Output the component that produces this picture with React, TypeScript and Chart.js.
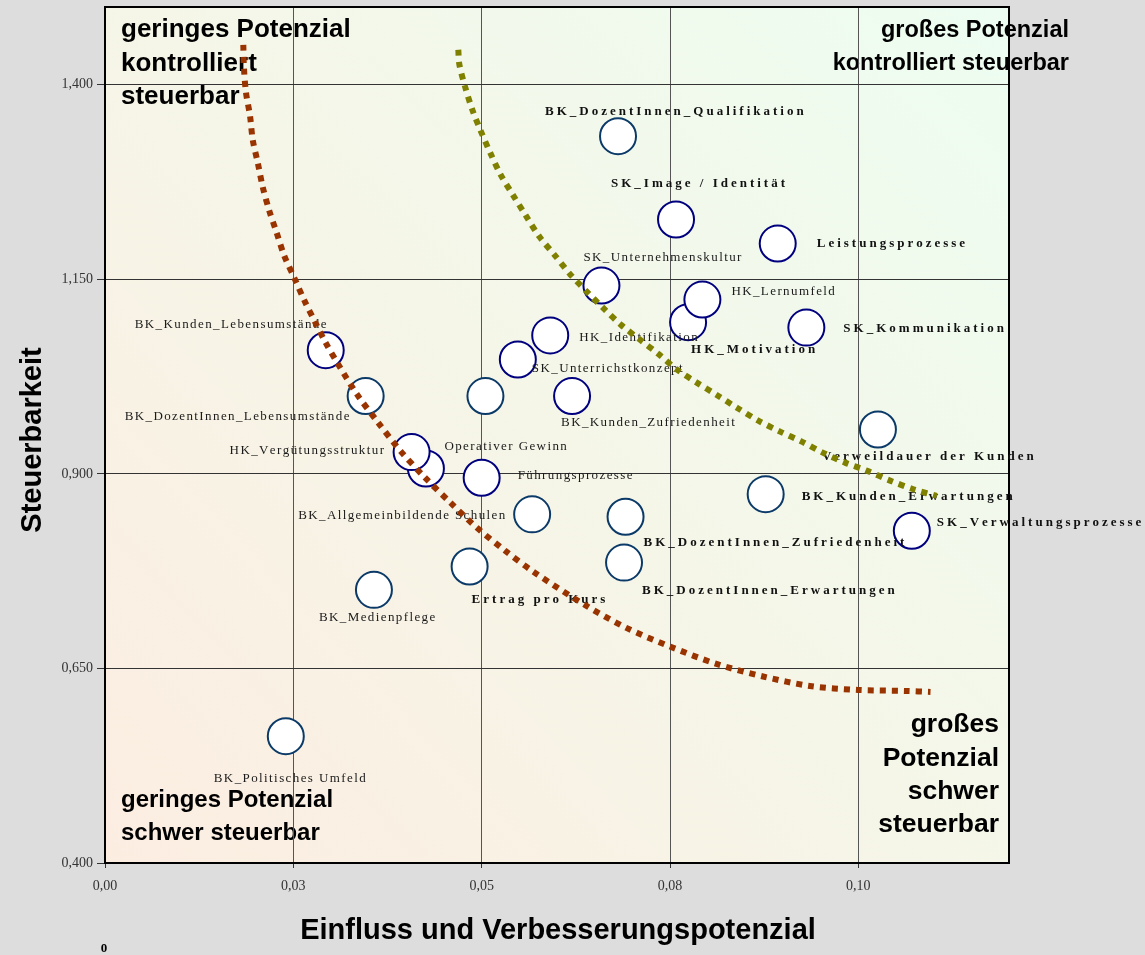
import React, { useEffect, useRef } from 'react';
import { Chart, registerables } from 'chart.js';

Chart.register(...registerables);

// ---------- DATA ----------
const NAMES = [
  'BK_DozentInnen_Qualifikation',
  'SK_Image / Identität',
  'Leistungsprozesse',
  'SK_Unternehmenskultur',
  'HK_Motivation',
  'HK_Lernumfeld',
  'SK_Kommunikation',
  'HK_Identifikation',
  'SK_Unterrichstkonzept',
  'BK_Kunden_Zufriedenheit',
  'Operativer Gewinn',
  'Verweildauer der Kunden',
  'BK_Kunden_Lebensumstände',
  'BK_DozentInnen_Lebensumstände',
  '',
  'HK_Vergütungsstruktur',
  'Führungsprozesse',
  'BK_Kunden_Erwartungen',
  'BK_Allgemeinbildende Schulen',
  'BK_DozentInnen_Zufriedenheit',
  'BK_DozentInnen_Erwartungen',
  'Ertrag pro Kurs',
  'SK_Verwaltungsprozesse',
  'BK_Medienpflege',
  'BK_Politisches Umfeld',
];

const EINFLUSS = [
  0.0681, 0.0758, 0.0893, 0.0659, 0.0774, 0.0793, 0.0931, 0.0591, 0.0548,
  0.0620, 0.0505, 0.1026, 0.0293, 0.0346, 0.0426, 0.0407, 0.0500, 0.0877,
  0.0567, 0.0691, 0.0689, 0.0484, 0.1071, 0.0357, 0.0240,
];

const STEUERBARKEIT = [
  1.334, 1.227, 1.196, 1.142, 1.095, 1.124, 1.088, 1.078, 1.047,
  1.000, 1.000, 0.957, 1.059, 1.000, 0.907, 0.928, 0.895, 0.874,
  0.848, 0.845, 0.786, 0.781, 0.827, 0.751, 0.563,
];

// group of each point (drives its outline colour)
const GROUP = [
  'B', 'A', 'A', 'A', 'A', 'A', 'A', 'A', 'A',
  'A', 'B', 'B', 'A', 'B', 'A', 'A', 'A', 'B',
  'B', 'B', 'B', 'B', 'A', 'B', 'B',
];

// bold labels
const BOLD = [
  true, true, true, false, true, false, true, false, false,
  false, false, true, false, false, false, false, false, true,
  false, true, true, true, true, false, false,
];

// Trend curves
const RED_X = [
  0.01836, 0.01845, 0.01872, 0.01925, 0.01961, 0.02031, 0.02093, 0.02181, 0.02279,
  0.0238, 0.02513, 0.02642, 0.02792, 0.0293, 0.03084, 0.03341, 0.03628, 0.03929,
  0.04248, 0.04589, 0.04934, 0.0531, 0.05685, 0.06381, 0.06928, 0.07516, 0.08117,
  0.08736, 0.09356, 0.09993, 0.10631, 0.10958,
];
const RED_Y = [
  1.4514, 1.4206, 1.3897, 1.3602, 1.3293, 1.2985, 1.2689, 1.238, 1.2098,
  1.1802, 1.1519, 1.1237, 1.0945, 1.0684, 1.0427, 1.0028, 0.9656, 0.9287,
  0.8952, 0.8627, 0.831, 0.8014, 0.7744, 0.731, 0.7018, 0.6775, 0.6558,
  0.6397, 0.6275, 0.6224, 0.6211, 0.6198,
];
const OLIVE_X = [
  0.0469, 0.04703, 0.04779, 0.04876, 0.04987, 0.0512, 0.05253, 0.0542, 0.05589,
  0.05765, 0.05974, 0.06173, 0.06395, 0.06615, 0.0685, 0.07093, 0.07345, 0.07598,
  0.07855, 0.0812, 0.08399, 0.08672, 0.08961, 0.09249, 0.09527, 0.09823, 0.10111,
  0.10421, 0.1073, 0.11041,
];
const OLIVE_Y = [
  1.445, 1.4266, 1.3978, 1.3679, 1.3409, 1.3113, 1.2843, 1.2577, 1.2316,
  1.205, 1.1806, 1.1567, 1.1343, 1.113, 1.0915, 1.0731, 1.0542, 1.0337,
  1.0173, 1.0015, 0.9844, 0.9685, 0.9544, 0.9415, 0.9274, 0.9145, 0.9042,
  0.8914, 0.8803, 0.8717,
];

const X_TICKS = [0, 0.025, 0.05, 0.075, 0.1];
const X_TICK_LABELS = ['0,00', '0,03', '0,05', '0,08', '0,10'];
const Y_TICKS = [0.4, 0.65, 0.9, 1.15, 1.4];
const Y_TICK_LABELS = ['0,400', '0,650', '0,900', '1,150', '1,400'];

const X_TITLE = 'Einfluss und Verbesserungspotenzial';
const Y_TITLE = 'Steuerbarkeit';

// ---------- STYLE / LAYOUT ----------
const W = 1145;
const H = 955;
const LABEL_OFFSET: [number, number][] = [
  [-73, -25], [-65, -36], [39, 0], [-18, -28], [3, 27], [29, -8], [37, 1], [29, 2], [14, 9],
  [-11, 26], [-41, 50], [-56, 27], [-191, -26], [-241, 20], [0, 0], [-182, -2], [36, -2], [36, 2],
  [-234, 1], [18, 26], [18, 28], [2, 33], [25, -8], [-55, 28], [-72, 42],
];
const GROUP_COLOR: Record<string, string> = { A: '#00007f', B: '#0b3a68' };

const QUADRANTS = [
  { lines: ['geringes Potenzial', 'kontrolliert', 'steuerbar'], x: 121, y: [37, 71, 104], size: 26, align: 'left' },
  { lines: ['großes Potenzial', 'kontrolliert steuerbar'], x: 1069, y: [37, 70], size: 23.5, align: 'right' },
  { lines: ['geringes Potenzial', 'schwer steuerbar'], x: 121, y: [807, 840], size: 24, align: 'left' },
  { lines: ['großes', 'Potenzial', 'schwer', 'steuerbar'], x: 999, y: [732, 766, 799, 832], size: 26.5, align: 'right' },
];

function drawSpaced(ctx: CanvasRenderingContext2D, text: string, x: number, y: number, spacing: number) {
  let cx = x;
  for (const ch of Array.from(text)) {
    ctx.fillText(ch, cx, y);
    cx += ctx.measureText(ch).width + spacing;
  }
}

const chartPlugin = {
  id: 'decor',
  beforeDraw(chart: any) {
    const { ctx, chartArea: a } = chart;
    ctx.save();
    ctx.fillStyle = '#DDDDDD';
    ctx.fillRect(0, 0, chart.width, chart.height);
    const g = ctx.createLinearGradient(a.left, a.bottom, a.right, a.top);
    g.addColorStop(0, '#FCEDE1');
    g.addColorStop(0.5, '#F5F6E8');
    g.addColorStop(1, '#EDFDF1');
    ctx.fillStyle = g;
    ctx.fillRect(a.left, a.top, a.right - a.left, a.bottom - a.top);
    ctx.fillStyle = '#000';
    ctx.textBaseline = 'alphabetic';
    for (const q of QUADRANTS) {
      ctx.font = `bold ${q.size}px "Liberation Sans", Arial, sans-serif`;
      ctx.textAlign = q.align as CanvasTextAlign;
      q.lines.forEach((l, i) => ctx.fillText(l, q.x, q.y[i]));
    }
    ctx.restore();
  },
  beforeDatasetsDraw(chart: any) {
    const { ctx, chartArea: a } = chart;
    ctx.save();
    ctx.strokeStyle = '#000';
    ctx.lineWidth = 2;
    ctx.strokeRect(a.left, a.top, a.right - a.left, a.bottom - a.top);
    ctx.restore();
  },
  afterDatasetDraw(chart: any, args: any) {
    if (args.index !== 2) return;
    const { ctx } = chart;
    const meta = chart.getDatasetMeta(2);
    ctx.save();
    ctx.textBaseline = 'middle';
    ctx.textAlign = 'left';
    meta.data.forEach((el: any, i: number) => {
      const name = NAMES[i];
      if (!name) return;
      const [dx, dy] = LABEL_OFFSET[i];
      if (BOLD[i]) {
        ctx.font = 'bold 13px "Liberation Serif", "Times New Roman", serif';
        ctx.fillStyle = '#111';
        drawSpaced(ctx, name, el.x + dx, el.y + dy, 3);
      } else {
        ctx.font = '13px "Liberation Serif", "Times New Roman", serif';
        ctx.fillStyle = '#1a1a1a';
        drawSpaced(ctx, name, el.x + dx, el.y + dy, 1.4);
      }
    });
    ctx.restore();
  },
  afterDraw(chart: any) {
    const { ctx, chartArea: a } = chart;
    ctx.save();
    ctx.fillStyle = '#000';
    ctx.font = 'bold 29px "Liberation Sans", Arial, sans-serif';
    ctx.textAlign = 'center';
    ctx.textBaseline = 'alphabetic';
    ctx.fillText(X_TITLE, (a.left + a.right) / 2 + 1, 939);
    ctx.save();
    ctx.translate(41, 440);
    ctx.rotate(-Math.PI / 2);
    ctx.fillText(Y_TITLE, 0, 0);
    ctx.restore();
    ctx.font = 'bold 13px "Liberation Serif", serif';
    ctx.textBaseline = 'middle';
    ctx.fillText('0', 104, 949);
    ctx.restore();
  },
};

export default function App() {
  const ref = useRef<HTMLCanvasElement | null>(null);

  useEffect(() => {
    document.body.style.margin = '0';
    document.body.style.background = '#DDDDDD';
    const canvas = ref.current;
    if (!canvas) return;

    const bubbles = EINFLUSS.map((x, i) => ({ x, y: STEUERBARKEIT[i] }));
    const red = RED_X.map((x, i) => ({ x, y: RED_Y[i] }));
    const olive = OLIVE_X.map((x, i) => ({ x, y: OLIVE_Y[i] }));

    const chart = new Chart(canvas, {
      type: 'scatter',
      data: {
        datasets: [
          {
            data: red,
            showLine: true,
            borderColor: '#993300',
            borderWidth: 6,
            borderDash: [6, 6],
            borderCapStyle: 'butt',
            pointRadius: 0,
            tension: 0.3,
            fill: false,
          } as any,
          {
            data: olive,
            showLine: true,
            borderColor: '#808000',
            borderWidth: 6,
            borderDash: [6, 6],
            borderCapStyle: 'butt',
            pointRadius: 0,
            tension: 0.3,
            fill: false,
          } as any,
          {
            data: bubbles,
            showLine: false,
            pointRadius: 18,
            pointBorderWidth: 2,
            pointBackgroundColor: '#FFFFFF',
            pointBorderColor: GROUP.map((g) => GROUP_COLOR[g]),
          } as any,
        ],
      },
      options: {
        responsive: false,
        animation: false,
        events: [],
        layout: { autoPadding: false, padding: { left: 0, right: 136, top: 7, bottom: 0 } },
        plugins: { legend: { display: false }, tooltip: { enabled: false }, title: { display: false } },
        scales: {
          x: {
            type: 'linear',
            min: 0,
            max: 0.12,
            afterBuildTicks: (s: any) => {
              s.ticks = X_TICKS.map((value) => ({ value }));
            },
            afterFit: (s: any) => {
              s.height = 92;
              s.paddingLeft = 0;
              s.paddingRight = 0;
              s.paddingTop = 0;
              s.paddingBottom = 0;
            },
            ticks: {
              callback: (_v: any, i: number) => X_TICK_LABELS[i],
              font: { family: '"Liberation Serif", "Times New Roman", serif', size: 14 },
              color: '#333',
              padding: 10,
              maxRotation: 0,
              autoSkip: false,
            },
            grid: { color: '#555', tickColor: '#333', tickLength: 5, lineWidth: 1 },
            border: { display: false },
          },
          y: {
            type: 'linear',
            min: 0.4,
            max: 1.5,
            afterBuildTicks: (s: any) => {
              s.ticks = Y_TICKS.map((value) => ({ value }));
            },
            afterFit: (s: any) => {
              s.width = 105;
              s.paddingLeft = 0;
              s.paddingRight = 0;
              s.paddingTop = 0;
              s.paddingBottom = 0;
            },
            ticks: {
              callback: (_v: any, i: number) => Y_TICK_LABELS[i],
              font: { family: '"Liberation Serif", "Times New Roman", serif', size: 14 },
              color: '#333',
              padding: 4,
              autoSkip: false,
            },
            grid: { color: '#333', tickColor: '#333', tickLength: 8, lineWidth: 1 },
            border: { display: false },
          },
        },
      } as any,
      plugins: [chartPlugin],
    });

    return () => chart.destroy();
  }, []);

  return (
    <div style={{ width: W, height: H, background: '#DDDDDD' }}>
      <canvas ref={ref} width={W} height={H} style={{ display: 'block', width: W, height: H }} />
    </div>
  );
}
